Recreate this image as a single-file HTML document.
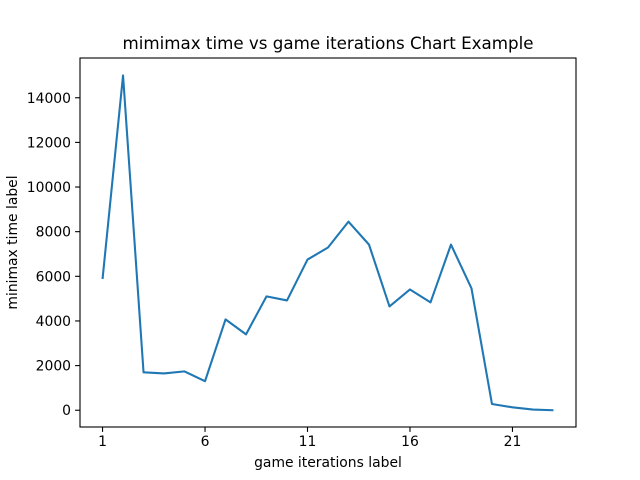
<!DOCTYPE html>
<html><head><meta charset="utf-8"><style>body{margin:0;background:#fff}svg{display:block;font-family:"DejaVu Sans","Liberation Sans",sans-serif}</style></head>
<body>
<svg id="chart" width="640" height="480" xmlns="http://www.w3.org/2000/svg"></svg>
<script>
const iterations = [1,2,3,4,5,6,7,8,9,10,11,12,13,14,15,16,17,18,19,20,21,22,23];
const times = [5880,15000,1700,1650,1740,1300,4070,3400,5100,4920,6750,7290,8450,7420,4650,5410,4830,7420,5460,280,130,30,0];
const xTicks = [1,6,11,16,21];
const yTicks = [0,2000,4000,6000,8000,10000,12000,14000];

const L=80,R=576,T=58,B=427;
const xmin=-0.1,xmax=24.1,ymin=-751,ymax=15781;
const sx=v=>L+(v-xmin)/(xmax-xmin)*(R-L);
const sy=v=>B-(v-ymin)/(ymax-ymin)*(B-T);
const svg=document.getElementById('chart');
const NS='http://www.w3.org/2000/svg';
function mk(tag,attrs,txt){const e=document.createElementNS(NS,tag);for(const k in attrs)e.setAttribute(k,attrs[k]);if(txt!==undefined)e.textContent=txt;svg.appendChild(e);return e;}

const line=mk('polyline',{points:iterations.map((x,i)=>sx(x)+','+sy(times[i])).join(' '),fill:'none',stroke:'#1f77b4','stroke-width':2.08,'stroke-linejoin':'round'});



const frame=mk('rect',{x:L,y:T,width:R-L,height:B-T,fill:'none',stroke:'#000','stroke-width':1.1});



xTicks.forEach(t=>{
  const x=sx(t);
  const tk=mk('line',{x1:x,x2:x,y1:B,y2:B+4.9,stroke:'#000','stroke-width':1.1});
  
  
  const lb=mk('text',{x:x,y:B+19,'text-anchor':'middle','font-size':13.9},String(t));
  
  
});
yTicks.forEach(t=>{
  const y=sy(t);
  const tk=mk('line',{x1:L-4.9,x2:L,y1:y,y2:y,stroke:'#000','stroke-width':1.1});
  
  
  const lb=mk('text',{x:L-9,y:y+5,'text-anchor':'end','font-size':13.9},String(t));
  
  
});
const title=mk('text',{x:(L+R)/2,y:49,'text-anchor':'middle','font-size':16.7},'mimimax time vs game iterations Chart Example');


const xt=mk('text',{x:(L+R)/2,y:467,'text-anchor':'middle','font-size':13.9},'game iterations label');


const yt=mk('text',{x:0,y:0,'text-anchor':'middle','font-size':13.9,transform:'translate(17,'+((T+B)/2)+') rotate(-90)'},'minimax time label');


</script>
</body></html>
